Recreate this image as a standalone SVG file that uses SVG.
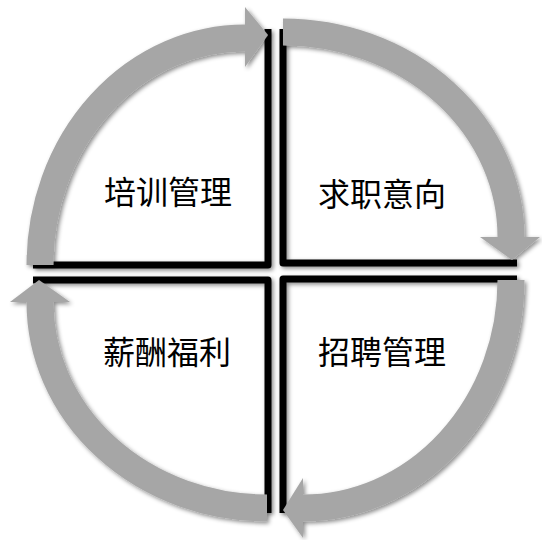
<svg xmlns="http://www.w3.org/2000/svg" width="542" height="540" viewBox="0 0 542 540">
  <defs>
    <filter id="sh" x="-20%" y="-20%" width="140%" height="140%">
      <feDropShadow dx="2" dy="2" stdDeviation="2" flood-color="#000" flood-opacity="0.45"/>
    </filter>
  </defs>
  <style>
    .frame { fill: none; stroke: #000; stroke-width: 7; stroke-linejoin: round; stroke-linecap: butt; }
    .band { fill: none; stroke: #a6a6a6; stroke-width: 27; stroke-linecap: butt; }
    .head { fill: #a6a6a6; stroke: none; }
    .label { font-family: "Noto Sans CJK SC", "Noto Sans", sans-serif; font-size: 32px; fill: #000; text-anchor: middle; }
  </style>
  <rect width="542" height="540" fill="#fff"/>

  <g id="training" filter="url(#sh)">
    <path class="frame" d="M 33 265 H 268 V 29"/>
  </g>
  <g id="jobIntent" filter="url(#sh)">
    <path class="frame" d="M 283 29 V 263 H 517"/>
  </g>
  <g id="salary" filter="url(#sh)">
    <path class="frame" d="M 33 280 H 268 V 513"/>
  </g>
  <g id="recruit" filter="url(#sh)">
    <path class="frame" d="M 283 513 V 279 H 517"/>
  </g>

  <g id="connectors" filter="url(#sh)">
    <g id="arc-tl">
      <path class="band" d="M 40 265 A 205 227 0 0 1 246 38"/>
      <polygon class="head" points="245,7 268,35 245,67"/>
    </g>
    <g id="arc-tr">
      <path class="band" d="M 283 32 A 228 205 0 0 1 511 238"/>
      <polygon class="head" points="480,237 540,237 512,260"/>
    </g>
    <g id="arc-br">
      <path class="band" d="M 511 280 A 208 228 0 0 1 302 508"/>
      <polygon class="head" points="303,478 303,538 283,510"/>
    </g>
    <g id="arc-bl">
      <path class="band" d="M 267 508 A 227 206 0 0 1 40 301"/>
      <polygon class="head" points="10,302 70,302 39,280"/>
    </g>
  </g>

  <g id="labels">
    <text class="label" x="168" y="204">培训管理</text>
    <text class="label" x="382" y="206">求职意向</text>
    <text class="label" x="167" y="364">薪酬福利</text>
    <text class="label" x="382" y="364">招聘管理</text>
  </g>
</svg>
